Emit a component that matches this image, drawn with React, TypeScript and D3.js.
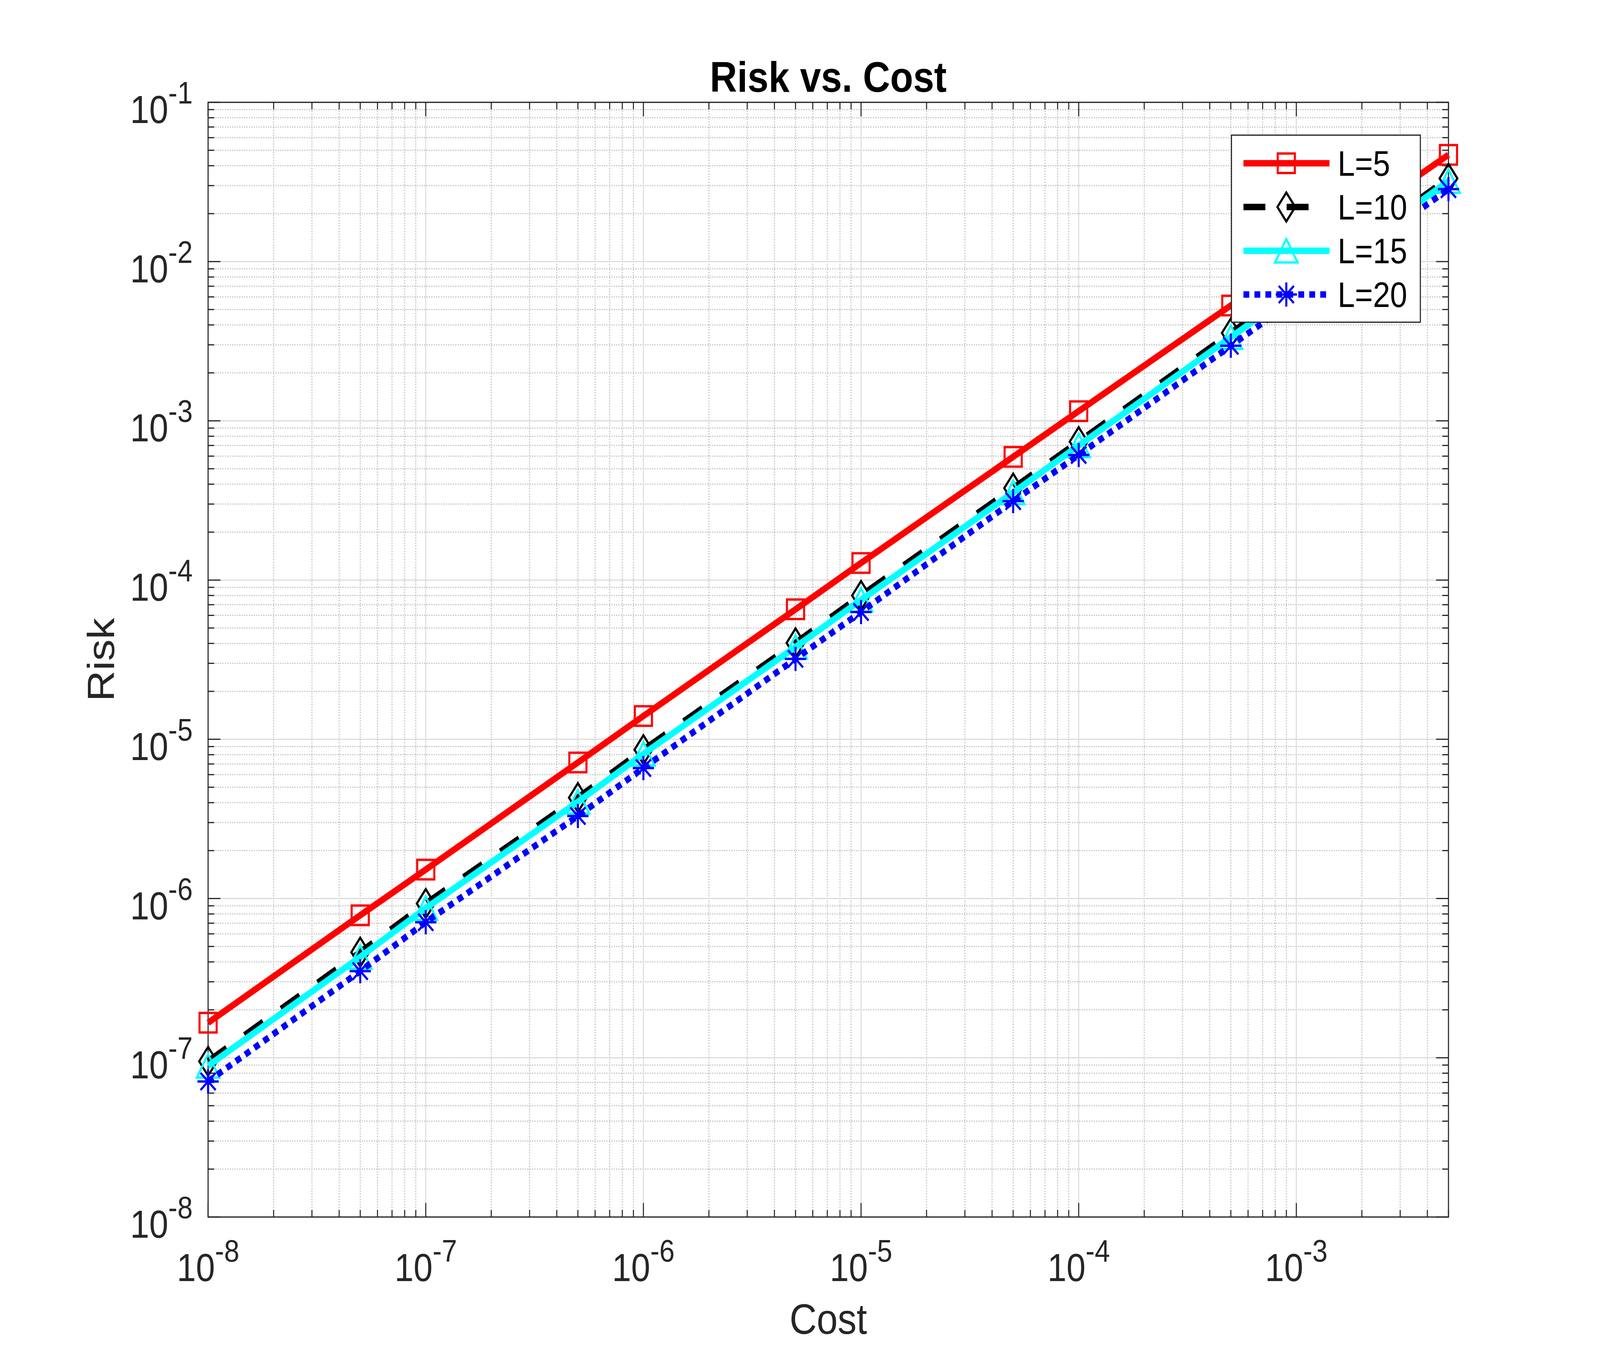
import { useEffect, useRef } from 'react'
import * as d3 from 'd3'

// data (log-log)
const costs = [1e-8, 5e-8, 1e-7, 5e-7, 1e-6, 5e-6, 1e-5, 5e-5, 1e-4, 5e-4, 5e-3]
const riskL5 = [1.66e-7, 7.85e-7, 1.52e-6, 7.15e-6, 1.4e-5, 6.55e-5, 1.28e-4, 5.94e-4, 1.15e-3, 5.3e-3, 4.68e-2]
const riskL10 = [9.5e-8, 4.6e-7, 9.3e-7, 4.3e-6, 8.6e-6, 4.03e-5, 8.0e-5, 3.78e-4, 7.4e-4, 3.56e-3, 3.33e-2]
const riskL15 = [8.9e-8, 4.3e-7, 8.7e-7, 4.05e-6, 8.1e-6, 3.8e-5, 7.5e-5, 3.55e-4, 7.0e-4, 3.35e-3, 3.2e-2]
const riskL20 = [7.1e-8, 3.5e-7, 7.1e-7, 3.3e-6, 6.6e-6, 3.2e-5, 6.3e-5, 3.13e-4, 6.1e-4, 2.96e-3, 2.85e-2]
const seriesNames = ['L=5', 'L=10', 'L=15', 'L=20']

const xTickExps = [-8, -7, -6, -5, -4, -3]
const yTickExps = [-8, -7, -6, -5, -4, -3, -2, -1]

const FONT = "'Liberation Sans', Arial, Helvetica, sans-serif"
const AXIS = '#262626'

type MarkerKind = 'square' | 'diamond' | 'triangle' | 'asterisk'

const styles: { color: string; dash: string | null; marker: MarkerKind }[] = [
  { color: '#ff0000', dash: null, marker: 'square' },
  { color: '#000000', dash: '64,62', marker: 'diamond' },
  { color: '#00ffff', dash: null, marker: 'triangle' },
  { color: '#0000ff', dash: '17,15', marker: 'asterisk' },
]

function markerPath(kind: MarkerKind, cx: number, cy: number) {
  switch (kind) {
    case 'square':
      return `M${cx - 25},${cy - 25}H${cx + 25}V${cy + 25}H${cx - 25}Z`
    case 'diamond':
      return `M${cx},${cy - 37}L${cx + 26},${cy}L${cx},${cy + 37}L${cx - 26},${cy}Z`
    case 'triangle':
      return `M${cx},${cy - 30}L${cx + 33},${cy + 30}L${cx - 33},${cy + 30}Z`
    default:
      return `M${cx - 31},${cy}H${cx + 31}M${cx},${cy - 31}V${cy + 31}` +
        `M${cx - 22},${cy - 22}L${cx + 22},${cy + 22}M${cx - 22},${cy + 22}L${cx + 22},${cy - 22}`
  }
}

export default function App() {
  const svgRef = useRef<SVGSVGElement>(null)

  useEffect(() => {
    document.body.style.margin = '0'
    document.body.style.overflow = 'hidden'
    if (!svgRef.current) return

    const W = 4667
    const H = 3500
    const left = 607, right = 4225, top = 262, bottom = 3116

    d3.select(svgRef.current).selectAll('*').remove()
    // scale the whole drawing to whatever the viewport really is
    const svg = d3.select(svgRef.current)
      .attr('viewBox', `0 0 ${W} ${H}`)
      .attr('preserveAspectRatio', 'none')
      .style('width', '100vw')
      .style('height', '100vh')
      .style('display', 'block')
      .style('background', '#fff')

    const x = d3.scaleLog().domain([1e-8, 5e-3]).range([left, right])
    const y = d3.scaleLog().domain([1e-8, 1e-1]).range([bottom, top])

    const minorOf = (dom: number[], exps: number[]) => {
      const out: number[] = []
      for (let e = exps[0] - 1; e <= exps[exps.length - 1] + 1; e++) {
        for (let k = 2; k <= 9; k++) {
          const v = k * Math.pow(10, e)
          if (v > dom[0] * 1.0001 && v < dom[1] * 0.9999) out.push(v)
        }
      }
      return out
    }
    const xMajor = xTickExps.map(e => Math.pow(10, e))
    const yMajor = yTickExps.map(e => Math.pow(10, e))
    const xMinor = minorOf([1e-8, 5e-3], xTickExps).concat([5e-3])
    const yMinor = minorOf([1e-8, 1e-1], yTickExps)

    svg.append('rect').attr('width', W).attr('height', H).attr('fill', '#fff')

    // minor grid
    const grid = svg.append('g')
    grid.selectAll('line.xm')
      .data(xMinor.filter(v => v < 5e-3 * 0.999))
      .join('line')
      .attr('x1', d => x(d)).attr('x2', d => x(d))
      .attr('y1', top).attr('y2', bottom)
      .attr('stroke', '#c4c4c4').attr('stroke-width', 3)
      .attr('stroke-dasharray', '3.5,3.5')
    grid.selectAll('line.ym')
      .data(yMinor)
      .join('line')
      .attr('x1', left).attr('x2', right)
      .attr('y1', d => y(d)).attr('y2', d => y(d))
      .attr('stroke', '#c4c4c4').attr('stroke-width', 3)
      .attr('stroke-dasharray', '3.5,3.5')
    // major grid
    svg.append('g').selectAll('line')
      .data(xMajor.slice(1))
      .join('line')
      .attr('x1', d => x(d)).attr('x2', d => x(d))
      .attr('y1', top).attr('y2', bottom)
      .attr('stroke', '#dcdcdc').attr('stroke-width', 3)
    svg.append('g').selectAll('line')
      .data(yMajor.slice(1, -1))
      .join('line')
      .attr('x1', left).attr('x2', right)
      .attr('y1', d => y(d)).attr('y2', d => y(d))
      .attr('stroke', '#dcdcdc').attr('stroke-width', 3)

    // ticks (inward, mirrored on all four sides)
    const ticks = svg.append('g').attr('stroke', AXIS).attr('stroke-width', 3)
    const tickSet = (vals: number[], len: number) => {
      vals.forEach(v => {
        const px = x(v)
        ticks.append('line').attr('x1', px).attr('x2', px).attr('y1', bottom).attr('y2', bottom - len)
        ticks.append('line').attr('x1', px).attr('x2', px).attr('y1', top).attr('y2', top + len)
      })
    }
    const tickSetY = (vals: number[], len: number) => {
      vals.forEach(v => {
        const py = y(v)
        ticks.append('line').attr('x1', left).attr('x2', left + len).attr('y1', py).attr('y2', py)
        ticks.append('line').attr('x1', right).attr('x2', right - len).attr('y1', py).attr('y2', py)
      })
    }
    tickSet(xMajor, 36)
    tickSet(xMinor, 18)
    tickSetY(yMajor, 36)
    tickSetY(yMinor, 18)

    // axes box
    svg.append('rect')
      .attr('x', left).attr('y', top)
      .attr('width', right - left).attr('height', bottom - top)
      .attr('fill', 'none').attr('stroke', AXIS).attr('stroke-width', 3.2)

    // tick labels
    const xl = svg.append('g').attr('font-family', FONT).attr('fill', AXIS)
    xTickExps.forEach(e => {
      const t = xl.append('text')
        .attr('x', x(Math.pow(10, e)))
        .attr('y', bottom + 164)
        .attr('text-anchor', 'middle')
      t.append('tspan').attr('font-size', 100).text('10')
      t.append('tspan').attr('font-size', 80).attr('dy', -50).text(`-${-e}`)
    })
    yTickExps.forEach(e => {
      const t = xl.append('text')
        .attr('x', 562)
        .attr('y', y(Math.pow(10, e)) + 53)
        .attr('text-anchor', 'end')
      t.append('tspan').attr('font-size', 100).text('10')
      t.append('tspan').attr('font-size', 80).attr('dy', -50).text(`-${-e}`)
    })

    // axis labels and title
    svg.append('text')
      .attr('x', (left + right) / 2).attr('y', 3415)
      .attr('text-anchor', 'middle')
      .attr('font-family', FONT).attr('font-size', 110).attr('fill', AXIS)
      .text('Cost')
    svg.append('text')
      .attr('transform', `translate(333,${(top + bottom) / 2}) rotate(-90)`)
      .attr('text-anchor', 'middle')
      .attr('font-family', FONT).attr('font-size', 110).attr('fill', AXIS)
      .text('Risk')
    svg.append('text')
      .attr('x', (left + right) / 2).attr('y', 235)
      .attr('text-anchor', 'middle')
      .attr('font-family', FONT).attr('font-size', 110).attr('font-weight', 'bold').attr('fill', '#000')
      .text('Risk vs. Cost')

    // series
    const allRisk = [riskL5, riskL10, riskL15, riskL20]
    const line = d3.line<[number, number]>()
      .x(d => x(d[0]))
      .y(d => y(d[1]))

    allRisk.forEach((vals, i) => {
      const st = styles[i]
      const pts = costs.map((c, j) => [c, vals[j]] as [number, number])
      const g = svg.append('g')
      g.append('path')
        .attr('d', line(pts))
        .attr('fill', 'none')
        .attr('stroke', st.color)
        .attr('stroke-width', 16.7)
        .attr('stroke-linejoin', 'round')
        .attr('stroke-dasharray', st.dash)
      g.selectAll('path.m')
        .data(pts)
        .join('path')
        .attr('class', 'm')
        .attr('d', d => markerPath(st.marker, x(d[0]), y(d[1])))
        .attr('fill', 'none')
        .attr('stroke', st.color)
        .attr('stroke-width', 6)
    })

    // legend
    const lg = svg.append('g')
    lg.append('rect')
      .attr('x', 3592).attr('y', 346)
      .attr('width', 4143 - 3592).attr('height', 825 - 346)
      .attr('fill', '#fff').attr('stroke', AXIS).attr('stroke-width', 3.2)
    const rowY = d3.scalePoint<string>().domain(seriesNames).range([418, 754])
    seriesNames.forEach((name, i) => {
      const st = styles[i]
      const cy = rowY(name) as number
      lg.append('line')
        .attr('x1', 3627).attr('x2', 3878)
        .attr('y1', cy).attr('y2', cy)
        .attr('stroke', st.color).attr('stroke-width', 16.7)
        .attr('stroke-dasharray', st.dash)
      lg.append('path')
        .attr('d', markerPath(st.marker, 3752, cy))
        .attr('fill', 'none').attr('stroke', st.color).attr('stroke-width', 6)
      lg.append('text')
        .attr('x', 3902).attr('y', cy + 32)
        .attr('font-family', FONT).attr('font-size', 90).attr('fill', '#000')
        .text(name)
    })
  }, [])

  return <svg ref={svgRef}></svg>
}
